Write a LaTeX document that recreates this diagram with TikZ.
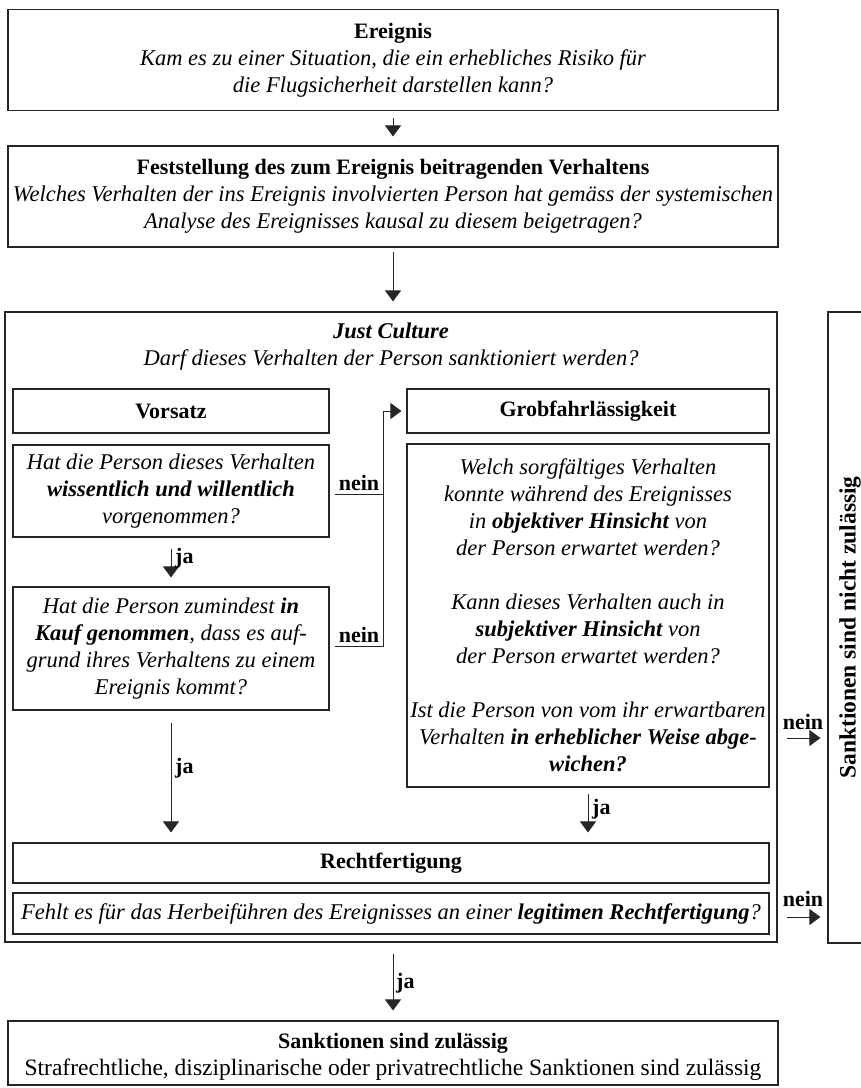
\documentclass[tikz,border=0pt]{standalone}
\usepackage{fontspec}
\setmainfont{Liberation Serif}
\usetikzlibrary{arrows.meta}
\newcommand{\itq}{\fontsize{22.5}{27}\selectfont\itshape}
\newcommand{\ttl}{\fontsize{22}{27}\selectfont\bfseries}
\begin{document}
\begin{tikzpicture}[x=1pt,y=-1pt,
  every node/.style={font=\fontsize{22.5}{27}\selectfont, text=black},
  box/.style={draw=black!85, line width=1.1pt, rectangle, inner sep=0pt, align=center},
  arr/.style={draw=black!85, line width=1pt, -{Triangle[length=11pt,width=16pt]}},
  conn/.style={draw=black!85, line width=1pt},
  lbl/.style={font=\fontsize{22}{27}\selectfont\bfseries, inner sep=0pt, anchor=base west},
  nlbl/.style={font=\fontsize{22}{27}\selectfont\bfseries, inner sep=0pt, anchor=base}
]
\useasboundingbox (0,0) rectangle (861,1088);

% top boxes
\node[box, minimum width=770pt, minimum height=101pt] (ev) at (393,60)
  {{\ttl Ereignis}\\ {\itq Kam es zu einer Situation, die ein erhebliches Risiko für}\\ {\itq die Flugsicherheit darstellen kann?}};
\node[box, minimum width=770pt, minimum height=101pt] (fest) at (393,196.5)
  {{\ttl Feststellung des zum Ereignis beitragenden Verhaltens}\\ {\itq Welches Verhalten der ins Ereignis involvierten Person hat gemäss der systemischen}\\ {\itq Analyse des Ereignisses kausal zu diesem beigetragen?}};

% just culture frame
\node[box, minimum width=772pt, minimum height=630pt] (jc) at (391,627) {};
\node[align=center, inner sep=0pt] (jct) at (391,347)
  {{\itq\bfseries Just Culture}\\ {\itq Darf dieses Verhalten der Person sanktioniert werden?}};

\node[box, minimum width=316pt, minimum height=44pt] (vors) at (171,411) {\ttl Vorsatz};
\node[box, minimum width=362pt, minimum height=44pt] (grob) at (588,411) {\ttl Grobfahrlässigkeit};

\node[box, minimum width=316pt, minimum height=92pt] (q1) at (171,491)
  {{\itq Hat die Person dieses Verhalten}\\ {\itq\bfseries wissentlich und willentlich}\\ {\itq vorgenommen?}};
\node[box, minimum width=316pt, minimum height=123pt] (q2) at (171,648.5)
  {{\itq Hat die Person zumindest \textbf{in}}\\ {\itq \textbf{Kauf genommen}, dass es auf-}\\ {\itq grund ihres Verhaltens zu einem}\\ {\itq Ereignis kommt?}};
\node[box, minimum width=362pt, minimum height=343pt] (q3) at (588,615.5)
  {{\itq Welch sorgfältiges Verhalten}\\ {\itq konnte während des Ereignisses}\\ {\itq in \textbf{objektiver Hinsicht} von}\\ {\itq der Person erwartet werden?}\\[27pt]
   {\itq Kann dieses Verhalten auch in}\\ {\itq \textbf{subjektiver Hinsicht} von}\\ {\itq der Person erwartet werden?}\\[27pt]
   {\itq Ist die Person von vom ihr erwartbaren}\\ {\itq Verhalten \textbf{in erheblicher Weise abge-}}\\ {\itq\bfseries wichen?}};

\node[box, minimum width=756pt, minimum height=40pt] (recht) at (391,863) {\ttl Rechtfertigung};
\node[box, minimum width=756pt, minimum height=41pt] (fehlt) at (391,913.5)
  {\itq Fehlt es für das Herbeiführen des Ereignisses an einer \textbf{legitimen Rechtfertigung}?};

% side box (right edge runs off the page)
\node[box, rotate=90, minimum width=631pt, minimum height=44pt] (side) at (850,627.5)
  {\fontsize{23.5}{27}\selectfont\bfseries Sanktionen sind nicht zulässig};

% final box
\node[box, minimum width=770pt, minimum height=64pt] (final) at (393,1053)
  {{\ttl\rule{0pt}{24pt}Sanktionen sind zulässig}\\ {\fontsize{23.5}{27}\selectfont Strafrechtliche, disziplinarische oder privatrechtliche Sanktionen sind zulässig}};

% arrows
\draw[arr, shorten <=7pt, shorten >=9pt] (ev) -- (fest);
\draw[arr, shorten <=4pt, shorten >=10pt] (fest.south) -- (fest.south |- jc.north);
\draw[arr, shorten <=11pt, shorten >=9pt] (q1) -- (q2);
\draw[arr, shorten <=12pt, shorten >=10pt] (q2.south) -- (q2.south |- recht.north);
\draw[arr, shorten <=6pt, shorten >=10pt] (q3.south) -- (q3.south |- recht.north);
\draw[arr, shorten <=11pt, shorten >=10pt] (final.north |- jc.south) -- (final.north);

\node[lbl] (ja1) at (175,563) {ja};
\node[lbl] (ja2) at (175,773) {ja};
\node[lbl] (ja3) at (592,814) {ja};
\node[lbl] (ja4) at (396,988) {ja};

% nein connectors
\coordinate (n1a) at (335,494);
\coordinate (n1b) at (383,494);
\coordinate (n2a) at (335,646);
\coordinate (n2b) at (383,646);
\draw[arr, shorten >=5pt] (n1a) -- (n1b) |- (grob.west);
\draw[conn] (n2a) -- (n2b) -- (n1b);
\node[nlbl] (nein1) at (359,490) {nein};
\node[nlbl] (nein2) at (359,642) {nein};

\coordinate (r1a) at (787,738);
\coordinate (r2a) at (787,917);
\draw[arr, shorten >=7pt] (r1a) -- (side.north |- r1a);
\draw[arr, shorten >=7pt] (r2a) -- (side.north |- r2a);
\node[nlbl] (nein3) at (803,729) {nein};
\node[nlbl] (nein4) at (803,906) {nein};
\end{tikzpicture}
\end{document}
